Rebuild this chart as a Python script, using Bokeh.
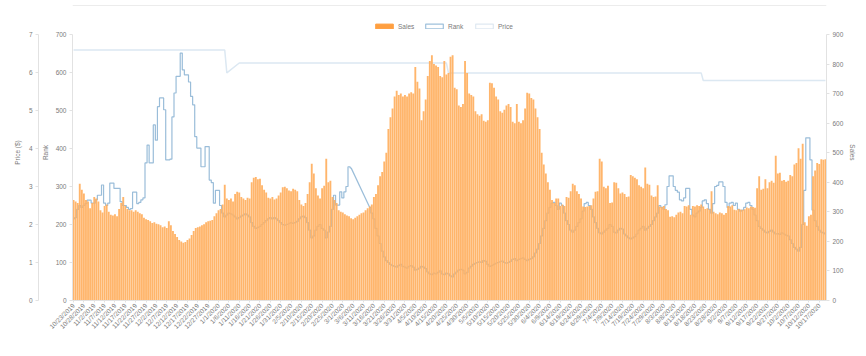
import numpy as np
import pandas as pd
from math import pi
from bokeh.plotting import figure
from bokeh.models import (Range1d, LinearAxis, FixedTicker, Legend, LegendItem,
                          ColumnDataSource, Span)
from bokeh.embed import file_html
from bokeh.resources import INLINE

# ---------------- data ----------------
start_date = "2019-10-23"
n_days = 364
dates = pd.date_range(start_date, periods=n_days)
date_labels = [f"{d.month}/{d.day}/{d.year}" for d in dates]
label_step = 5

sales = [
    340, 335, 330, 395, 375, 362, 340, 335, 312, 330,
    350, 345, 335, 305, 298, 320, 325, 300, 290, 288,
    292, 285, 310, 330, 350, 320, 310, 305, 305, 300,
    305, 300, 295, 292, 280, 275, 272, 268, 262, 265,
    260, 258, 255, 248, 250, 245, 268, 255, 235, 225,
    215, 205, 200, 195, 198, 205, 210, 222, 235, 245,
    248, 250, 255, 258, 265, 268, 270, 272, 285, 295,
    305, 310, 325, 392, 345, 340, 345, 335, 360, 368,
    365, 350, 345, 340, 348, 345, 400, 415, 418, 410,
    412, 390, 375, 365, 348, 345, 350, 342, 345, 355,
    365, 383, 385, 380, 372, 370, 378, 375, 370, 340,
    325, 320, 330, 360, 400, 463, 430, 380, 355, 345,
    380, 388, 480, 400, 405, 350, 340, 330, 305, 300,
    298, 292, 288, 285, 278, 275, 280, 285, 290, 295,
    298, 305, 312, 318, 325, 350, 360, 390, 420, 435,
    470, 500, 580, 620, 650, 690, 710, 695, 700, 690,
    695, 690, 700, 705, 700, 790, 740, 717, 610, 640,
    680, 760, 810, 830, 800, 795, 790, 760, 755, 810,
    765, 770, 825, 830, 720, 715, 660, 655, 665, 810,
    770, 700, 695, 690, 640, 630, 625, 630, 608, 605,
    610, 737, 735, 720, 690, 680, 640, 635, 645, 660,
    665, 655, 605, 600, 665, 605, 600, 610, 650, 703,
    700, 685, 680, 650, 620, 580, 500, 460, 430, 400,
    375, 340, 330, 345, 345, 320, 325, 320, 350, 348,
    370, 395, 390, 370, 360, 345, 318, 316, 318, 320,
    322, 345, 368, 370, 480, 470, 385, 380, 388, 330,
    332, 400, 398, 380, 362, 365, 360, 350, 352, 425,
    420, 415, 410, 390, 385, 380, 450, 395, 392, 355,
    350, 352, 390, 318, 316, 320, 310, 305, 283, 285,
    282, 290, 298, 300, 295, 320, 318, 322, 290, 320,
    318, 322, 320, 325, 318, 310, 312, 308, 370, 300,
    295, 292, 298, 295, 290, 296, 320, 318, 322, 307,
    305, 310, 308, 306, 309, 315, 312, 318, 316, 314,
    380, 420, 375, 378, 410, 380, 400, 405, 398, 490,
    430, 432, 405, 408, 402, 405, 425, 420, 460, 465,
    515, 480, 530, 265, 253, 285, 290, 420, 440, 465,
    462, 478, 476, 478,
]

rank = [
    215, 218, 240, 250, 245, 250, 255, 264, 264, 256, 256, 265, 277, 277, 304, 256,
    250, 256, 309, 309, 295, 295, 295, 260, 250, 250, 245, 240, 242, 285, 285, 255, 258,
    265, 270, 362, 409, 362, 362, 462, 422, 510, 533, 533, 502, 370, 370, 372, 483, 546,
    590, 590, 651, 607, 594, 594, 575, 537, 515, 431, 401, 401, 352, 352, 405, 405, 317,
    310, 256, 290, 290, 250, 230,
    220, 225, 230, 228, 225, 220, 215, 218, 222, 225, 228, 225, 220, 205, 195, 190, 192,
    195, 200, 205, 210, 215, 218, 215, 218, 215, 210, 205, 200, 198, 200, 202, 205, 203,
    205, 208, 215, 220, 222, 218, 205, 185, 165, 170, 185, 195, 200, 190, 185, 165, 180, 195,
    240, 277, 251, 251, 286, 270, 286, 300, 352, 349,
    None, None, None, None, None, None, None, None,
    245, 230, 215, 190, 170, 150, 130, 115, 105, 100, 95, 92,
    90, 88, 92, 95, 90, 88, 85, 90, 92, 88, 80,
    82, 85, 90, 88, 84, 75, 70, 68, 72, 70, 74, 78, 70, 68, 72, 70, 65, 62, 70, 75,
    80, 82, 80, 70, 74, 85, 90, 95, 98, 100, 102, 100, 105, 103, 95,
    90, 92, 95, 98, 100, 102, 104, 100, 98, 100, 103, 108, 110, 105, 108, 110, 112, 108,
    105, 108, 110, 115, 125, 135, 150,
    170, 190, 210, 230, 245, 256, 258, 250, 240, 256,
    250, 230, 210, 200, 185, 180, 185, 195, 205, 215, 235, 255, 258, 250, 240,
    220, 205, 190, 178, 175, 180, 185, 190, 200, 195, 180, 178, 185, 190, 188,
    175, 170, 165, 162, 165, 168, 175, 185, 190, 195, 185, 190, 195, 200, 210,
    220, 230, 250, 245, 240, 252, 300, 328, 328, 300,
    290, 285, 265, 262, 270, 295, 295, 240, 225, 220,
    230, 235, 245, 262, 265, 255, 240, 230, 255, 300, 303, 312, 312, 300, 258, 245,
    256, 258, 250, 256, 240, 235, 238, 245, 256, 258, 250, 240, 225, 210,
    195, 190, 185, 180, 178, 182, 185, 180, 175, 176, 174, 178, 175, 172, 170, 160,
    150, 140, 135, 130,
    140, 200, 290, 428, 428, 370, 238, 210, 195, 185, 180, 178, 175,
]

# price points (day index, price) where the price line has a vertex
price_days = [0, 73, 74, 80, 180, 181, 303, 304, 363]
price_vals = [6.59, 6.59, 5.99, 6.25, 6.25, 5.99, 5.99, 5.79, 5.79]

rank_ticks = [0, 100, 200, 300, 400, 500, 600, 700]
price_ticks = [0, 1, 2, 3, 4, 5, 6, 7]
sales_ticks = [0, 100, 200, 300, 400, 500, 600, 700, 800, 900]

assert len(sales) == n_days and len(rank) == n_days

# ---------------- layout constants ----------------
FRAME_TOP, FRAME_BOTTOM = 4, 300         # frame in canvas px
AXIS_TOP = 34                            # where the 700 / 7 / 900 ticks sit
RULE_Y = 5                               # faint card rule at the very top
stretch = (FRAME_BOTTOM - FRAME_TOP) / (FRAME_BOTTOM - AXIS_TOP)

days = np.arange(n_days)
rank_arr = np.array(rank, dtype=float)

FONT = "Liberation Sans"
TXT = "#7a7a7a"
AX = "#e2e2e2"
FS = "6.5px"

rank_max = rank_ticks[-1] * stretch
p = figure(width=866, height=356, output_backend="svg", toolbar_location=None,
           x_range=Range1d(-0.5, n_days - 0.5),
           y_range=Range1d(0, rank_max),
           min_border_left=72, min_border_right=40, min_border_top=FRAME_TOP,
           min_border_bottom=356 - FRAME_BOTTOM)
p.extra_y_ranges = {"sales": Range1d(0, sales_ticks[-1] * stretch),
                    "price": Range1d(0, price_ticks[-1] * stretch)}
p.xgrid.visible = False
p.ygrid.visible = False
p.outline_line_color = None
p.background_fill_color = "white"
p.border_fill_color = "white"

def style_axis(ax, label=None):
    ax.axis_line_color = AX
    ax.major_tick_line_color = AX
    ax.minor_tick_line_color = None
    ax.major_tick_in = 0
    ax.major_tick_out = 3
    ax.major_label_text_font = FONT
    ax.major_label_text_font_size = FS
    ax.major_label_text_color = TXT
    ax.major_label_standoff = 3
    if label is not None:
        ax.axis_label = label
        ax.axis_label_text_font = FONT
        ax.axis_label_text_font_size = FS
        ax.axis_label_text_font_style = "normal"
        ax.axis_label_text_color = TXT

# rank axis (inner left)
rank_axis = p.yaxis[0]
style_axis(rank_axis, "Rank")
rank_axis.ticker = FixedTicker(ticks=rank_ticks)
rank_axis.bounds = (rank_ticks[0], rank_ticks[-1])
rank_axis.axis_label_standoff = 4

# price axis (outer left)
price_axis = LinearAxis(y_range_name="price", ticker=FixedTicker(ticks=price_ticks),
                        bounds=(price_ticks[0], price_ticks[-1]))
style_axis(price_axis, "Price ($)")
price_axis.axis_label_standoff = 5
p.add_layout(price_axis, "left")

# sales axis (right)
sales_axis = LinearAxis(y_range_name="sales", ticker=FixedTicker(ticks=sales_ticks),
                        bounds=(sales_ticks[0], sales_ticks[-1]))
style_axis(sales_axis, "Sales")
sales_axis.axis_label_standoff = 3
p.add_layout(sales_axis, "right")

# x axis
xax = p.xaxis[0]
style_axis(xax)
tick_days = list(range(0, n_days, label_step))
xax.ticker = FixedTicker(ticks=tick_days)
xax.major_label_overrides = {d: date_labels[d] for d in tick_days}
xax.major_label_orientation = pi / 4
xax.major_tick_out = 2
xax.major_label_standoff = 2

# faint rule at the top of the card
p.add_layout(Span(location=rank_max * (FRAME_BOTTOM - RULE_Y) / (FRAME_BOTTOM - FRAME_TOP),
                  dimension="width", line_color="#ececec", line_width=1))

# ---------------- glyphs ----------------
RANK_C = "#9abdd9"
PRICE_C = "#dce8f2"
SALES_C = "#ff9f40"

rank_src = ColumnDataSource(dict(x=days, y=rank_arr))
p.step("x", "y", source=rank_src, mode="center", line_color=RANK_C, line_width=1.2)
# bridge across the days with no rank value
nan_idx = np.where(np.isnan(rank_arr))[0]
if len(nan_idx):
    a, b = nan_idx[0] - 1, nan_idx[-1] + 1
    p.line([days[a], days[b]], [rank_arr[a], rank_arr[b]], line_color=RANK_C, line_width=1.2)

p.line(price_days, price_vals, y_range_name="price", line_color=PRICE_C, line_width=1.5)

bars = p.vbar(x=days, top=sales, width=0.9, bottom=0, y_range_name="sales",
              fill_color="#ffb062", fill_alpha=0.94, line_color=None)

# legend proxies (box style) - one glyph each, placed outside the visible x range
off = ColumnDataSource(dict(l=[n_days + 10], r=[n_days + 11], t=[1], b=[0]))
sales_box = p.quad(left="l", right="r", top="t", bottom="b", source=off,
                   fill_color=SALES_C, line_color=SALES_C, line_width=1)
rank_box = p.quad(left="l", right="r", top="t", bottom="b", source=off,
                  fill_color="white", line_color="#9fc1dc", line_width=1.2)
price_box = p.quad(left="l", right="r", top="t", bottom="b", source=off,
                   fill_color="white", line_color="#dfe9f2", line_width=1.2)

legend = Legend(items=[LegendItem(label="Sales", renderers=[sales_box]),
                       LegendItem(label="Rank", renderers=[rank_box]),
                       LegendItem(label="Price", renderers=[price_box])],
                orientation="horizontal",
                location=(301, FRAME_BOTTOM - 30),
                glyph_width=22, glyph_height=6, label_standoff=3, spacing=5,
                padding=0, margin=0, border_line_color=None,
                background_fill_alpha=0,
                label_text_font=FONT, label_text_font_size=FS,
                label_text_color=TXT, label_height=8)
p.add_layout(legend, "center")

open("out.html", "w").write(file_html(p, INLINE))
